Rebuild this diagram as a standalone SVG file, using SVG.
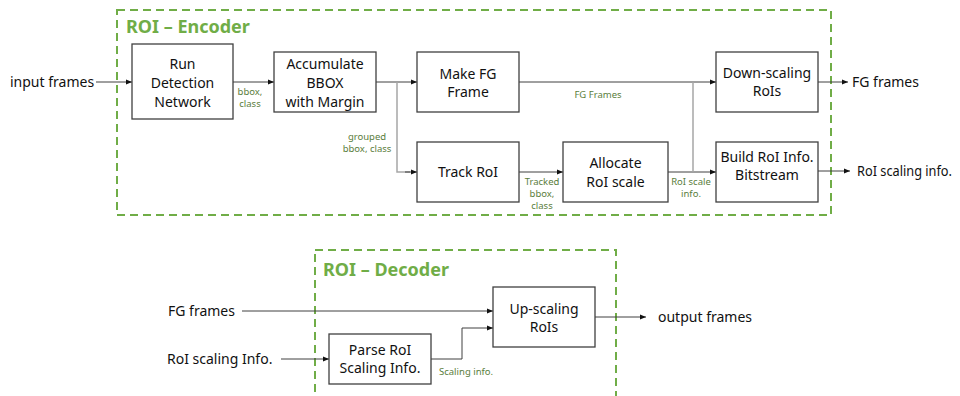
<svg xmlns="http://www.w3.org/2000/svg" width="960" height="396" viewBox="0 0 960 396">
<style>
text{font-family:"Noto Sans","Open Sans","DejaVu Sans",sans-serif;}
.box{fill:#fff;stroke:#404040;stroke-width:1.3;}
.t{font-size:14px;fill:#111;text-anchor:middle;}
.io{font-size:14px;fill:#111;}
.lbl{font-size:9.5px;fill:#5a7d3c;text-anchor:middle;}
.title{font-size:18px;font-weight:bold;fill:#70AD47;}
.group{fill:none;stroke:#70AD47;stroke-width:2;stroke-dasharray:8 5;}
.c{fill:none;stroke:#404040;stroke-width:1;}
.g{fill:none;stroke:#a6a6a6;stroke-width:1.5;}
</style>
<defs>
<marker id="ah" viewBox="0 0 10 10" refX="10" refY="5" markerWidth="6" markerHeight="6" orient="auto" markerUnits="userSpaceOnUse">
<path d="M0,1 L10,5 L0,9 z" fill="#111"/>
</marker>
</defs>
<rect class="group" x="117" y="10" width="714" height="205"/>
<text class="title" x="126" y="33">ROI – Encoder</text>
<rect class="group" x="315" y="250" width="301" height="160"/>
<text class="title" x="323" y="276">ROI – Decoder</text>

<g id="connectors">
<line class="c" x1="96" y1="82" x2="132" y2="82" marker-end="url(#ah)"/>
<line class="c" x1="233" y1="82" x2="274" y2="82" marker-end="url(#ah)"/>
<line class="c" x1="376" y1="82" x2="417" y2="82" marker-end="url(#ah)"/>
<polyline class="g" points="397,82 397,172 410,172"/>
<line class="c" x1="405" y1="172" x2="417" y2="172" marker-end="url(#ah)"/>
<line class="c" x1="519" y1="82" x2="716" y2="82" marker-end="url(#ah)"/>
<line class="c" x1="519" y1="172" x2="563" y2="172" marker-end="url(#ah)"/>
<line class="c" x1="668" y1="172" x2="716" y2="172" marker-end="url(#ah)"/>
<line class="g" x1="693" y1="172" x2="693" y2="82"/>
<line class="c" x1="818" y1="82" x2="848" y2="82" marker-end="url(#ah)"/>
<line class="c" x1="818" y1="171" x2="850" y2="171" marker-end="url(#ah)"/>
<line class="c" x1="242" y1="311" x2="493" y2="311" marker-end="url(#ah)"/>
<line class="c" x1="281" y1="359" x2="329" y2="359" marker-end="url(#ah)"/>
<polyline class="c" points="431,359 462,359 462,328 493,328" marker-end="url(#ah)"/>
<line class="c" x1="595" y1="317" x2="646" y2="317" marker-end="url(#ah)"/>
<text class="lbl" x="250" y="95">bbox,</text>
<text class="lbl" x="250" y="107">class</text>
<text class="lbl" x="367" y="140">grouped</text>
<text class="lbl" x="367" y="152">bbox, class</text>
<text class="lbl" x="598" y="98">FG Frames</text>
<text class="lbl" x="542" y="185">Tracked</text>
<text class="lbl" x="542" y="197">bbox,</text>
<text class="lbl" x="542" y="209">class</text>
<text class="lbl" x="691" y="185">RoI scale</text>
<text class="lbl" x="691" y="197">info.</text>
<text class="lbl" x="439" y="375" style="text-anchor:start">Scaling info.</text>
</g>

<text class="io" x="10" y="87">input frames</text>
<text class="io" x="852" y="87">FG frames</text>
<text class="io" x="857" y="176" textLength="95" lengthAdjust="spacingAndGlyphs">RoI scaling info.</text>
<text class="io" x="168" y="316">FG frames</text>
<text class="io" x="167" y="364">RoI scaling Info.</text>
<text class="io" x="658" y="322">output frames</text>

<g id="run-detection">
<rect class="box" x="132" y="44" width="101" height="75"/>
<text class="t" x="182.5" y="69">Run</text>
<text class="t" x="182.5" y="88">Detection</text>
<text class="t" x="182.5" y="107">Network</text>
</g>
<g id="accumulate">
<rect class="box" x="274" y="52" width="102" height="60"/>
<text class="t" x="325" y="69">Accumulate</text>
<text class="t" x="325" y="88">BBOX</text>
<text class="t" x="325" y="107">with Margin</text>
</g>
<g id="make-fg">
<rect class="box" x="417" y="52" width="102" height="60"/>
<text class="t" x="468" y="79">Make FG</text>
<text class="t" x="468" y="97">Frame</text>
</g>
<g id="track-roi">
<rect class="box" x="417" y="142" width="102" height="60"/>
<text class="t" x="468" y="177">Track RoI</text>
</g>
<g id="allocate">
<rect class="box" x="563" y="142" width="105" height="60"/>
<text class="t" x="615.5" y="168">Allocate</text>
<text class="t" x="615.5" y="187">RoI scale</text>
</g>
<g id="down-scaling">
<rect class="box" x="716" y="52" width="102" height="60"/>
<text class="t" x="767" y="78">Down-scaling</text>
<text class="t" x="767" y="96">RoIs</text>
</g>
<g id="build-roi">
<rect class="box" x="716" y="142" width="102" height="60"/>
<text class="t" x="767" y="162">Build RoI Info.</text>
<text class="t" x="767" y="180">Bitstream</text>
</g>
<g id="up-scaling">
<rect class="box" x="493" y="287" width="102" height="60"/>
<text class="t" x="544" y="314">Up-scaling</text>
<text class="t" x="544" y="332">RoIs</text>
</g>
<g id="parse-roi">
<rect class="box" x="329" y="334" width="102" height="50"/>
<text class="t" x="380" y="355">Parse RoI</text>
<text class="t" x="380" y="373">Scaling Info.</text>
</g>
</svg>
